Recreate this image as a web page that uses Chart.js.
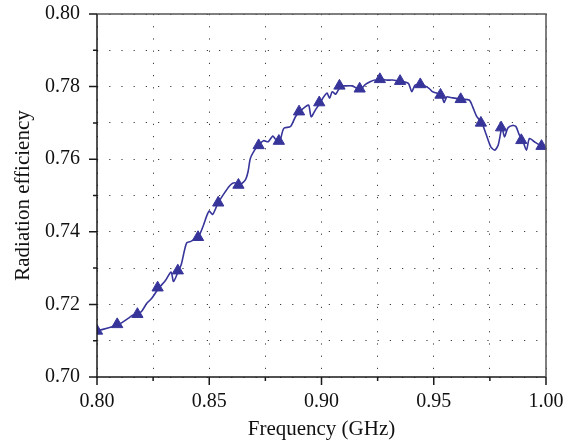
<!DOCTYPE html>
<html>
<head>
<meta charset="utf-8">
<script src="https://cdn.jsdelivr.net/npm/chart.js@4/dist/chart.umd.min.js"></script>
<style>
  html, body { margin: 0; padding: 0; background: #fff; }
  #wrap { width: 574px; height: 445px; }
</style>
</head>
<body>
<div id="wrap"><canvas id="chart"></canvas></div>
<script>
// traced curve (GHz, efficiency)
const freq = [0.800, 0.8091, 0.8140, 0.8158, 0.8180, 0.8200, 0.8222, 0.8244, 0.8274, 0.8304,
    0.8330, 0.8341, 0.8363, 0.8375, 0.8390, 0.8400, 0.8415, 0.8450, 0.8473, 0.8490,
    0.8500, 0.8515, 0.8539, 0.8571, 0.8594, 0.8613, 0.8634, 0.8661, 0.8673, 0.8683,
    0.8702, 0.8720, 0.8742, 0.8762, 0.8783, 0.8795, 0.8813, 0.8832, 0.8862, 0.8884,
    0.8903, 0.8929, 0.8943, 0.8954, 0.8973, 0.8996, 0.9010, 0.9025, 0.9036, 0.9048,
    0.9063, 0.9085, 0.9107, 0.9137, 0.9159, 0.9174, 0.9196, 0.9219, 0.9238, 0.9249,
    0.9260, 0.9286, 0.9316, 0.9338, 0.9353, 0.9387, 0.9402, 0.9417, 0.9442, 0.9479,
    0.9494, 0.9509, 0.9534, 0.9546, 0.9558, 0.9576, 0.9625, 0.9658, 0.9673, 0.9692,
    0.9714, 0.9732, 0.9754, 0.9772, 0.9787, 0.9804, 0.9815, 0.9830, 0.9851, 0.9866,
    0.9881, 0.9896, 0.9913, 0.9926, 0.9948, 0.9984, 1.000];
const efficiency = [0.7127, 0.7143, 0.7162, 0.7170, 0.7173, 0.7182, 0.7203, 0.7217, 0.7244, 0.7265,
    0.7289, 0.7263, 0.7293, 0.7309, 0.7350, 0.7370, 0.7373, 0.7385, 0.7416, 0.7446,
    0.7457, 0.7448, 0.7479, 0.7510, 0.7529, 0.7535, 0.7529, 0.7543, 0.7566, 0.7602,
    0.7625, 0.7639, 0.7651, 0.7648, 0.7664, 0.7655, 0.7648, 0.7685, 0.7690, 0.7717,
    0.7731, 0.7745, 0.7749, 0.7717, 0.7736, 0.7757, 0.7772, 0.7782, 0.7768, 0.7786,
    0.7779, 0.7800, 0.7802, 0.7802, 0.7795, 0.7793, 0.7806, 0.7814, 0.7818, 0.7814,
    0.7821, 0.7818, 0.7818, 0.7816, 0.7814, 0.7809, 0.7786, 0.7804, 0.7807, 0.7795,
    0.7786, 0.7783, 0.7777, 0.7756, 0.7772, 0.7770, 0.7765, 0.7763, 0.7745, 0.7717,
    0.7700, 0.7671, 0.7634, 0.7625, 0.7639, 0.7687, 0.7661, 0.7686, 0.7693, 0.7690,
    0.7667, 0.7652, 0.7625, 0.7657, 0.7648, 0.7635, 0.7633];

// triangle markers
const markerFreq = [0.800, 0.809, 0.818, 0.827, 0.836, 0.845, 0.854, 0.863, 0.872, 0.881,
    0.890, 0.899, 0.908, 0.917, 0.926, 0.935, 0.944, 0.953, 0.962, 0.971,
    0.980, 0.989, 0.998];
const markerEff = [0.7127, 0.7145, 0.7173, 0.7246, 0.7293, 0.7385, 0.7480, 0.7529, 0.7638, 0.7650,
    0.7731, 0.7756, 0.7802, 0.7794, 0.7820, 0.7815, 0.7806, 0.7777, 0.7765, 0.7700,
    0.7687, 0.7652, 0.7636];

const navy = "#37359a";
const serif = "'Liberation Serif', 'Times New Roman', serif";

const isMajorX = v => Math.round(v * 1000) % 50 === 0;
const isMajorY = v => Math.round(v * 100) % 2 === 0;

// box + outward tick marks
const framePlugin = {
    id: "frame",
    afterDraw(chart) {
        const { ctx, chartArea: a, scales: { x, y } } = chart;
        ctx.save();
        ctx.setLineDash([]);
        ctx.strokeStyle = "#1a1a1a";
        ctx.lineWidth = 1.5;
        ctx.beginPath();
        x.ticks.forEach(t => {
            const px = x.getPixelForValue(t.value);
            const len = isMajorX(t.value) ? 8 : 4;
            ctx.moveTo(px, a.bottom);
            ctx.lineTo(px, a.bottom + len);
        });
        y.ticks.forEach(t => {
            const py = y.getPixelForValue(t.value);
            const len = isMajorY(t.value) ? 8 : 4;
            ctx.moveTo(a.left, py);
            ctx.lineTo(a.left - len, py);
        });
        ctx.stroke();
        ctx.beginPath();
        ctx.moveTo(a.left, a.top);
        ctx.lineTo(a.left, a.bottom);
        ctx.lineTo(a.right, a.bottom);
        ctx.stroke();
        ctx.strokeStyle = "#555";
        ctx.beginPath();
        ctx.moveTo(a.left, a.top);
        ctx.lineTo(a.right, a.top);
        ctx.lineTo(a.right, a.bottom);
        ctx.stroke();
        ctx.restore();
    }
};

new Chart(document.getElementById("chart"), {
    type: "line",
    data: {
        datasets: [
            {
                data: freq.map((f, i) => ({ x: f, y: efficiency[i] })),
                borderColor: navy,
                borderWidth: 1.6,
                pointRadius: 0,
                tension: 0.25,
                fill: false,
            },
            {
                data: markerFreq.map((f, i) => ({ x: f, y: markerEff[i] })),
                showLine: false,
                pointStyle: "triangle",
                pointRadius: 6.5,
                backgroundColor: navy,
                borderColor: navy,
                borderWidth: 1,
            },
        ],
    },
    options: {
        responsive: true,
        maintainAspectRatio: false,
        animation: false,
        layout: { padding: 0 },
        plugins: {
            legend: { display: false },
            tooltip: { enabled: false },
        },
        scales: {
            x: {
                type: "linear",
                min: 0.8,
                max: 1.0,
                afterFit: s => {
                    s.height = 68;
                    s.paddingLeft = 0;
                    s.paddingRight = 28;
                },
                ticks: {
                    stepSize: 0.025,
                    autoSkip: false,
                    maxRotation: 0,
                    padding: 13,
                    color: "#111",
                    font: { family: serif, size: 20 },
                    callback: v => (isMajorX(v) ? v.toFixed(2) : ""),
                },
                grid: { color: "#3a3a3a", lineWidth: 1, drawTicks: false },
                border: { display: false, dash: [1.2, 11] },
                title: {
                    display: true,
                    text: "Frequency (GHz)",
                    color: "#111",
                    font: { family: serif, size: 21 },
                    padding: { top: 0, bottom: 3 },
                },
            },
            y: {
                min: 0.7,
                max: 0.8,
                afterFit: s => {
                    s.width = 97;
                    s.paddingTop = 14;
                    s.paddingBottom = 0;
                },
                ticks: {
                    stepSize: 0.01,
                    autoSkip: false,
                    padding: 17,
                    color: "#111",
                    font: { family: serif, size: 20 },
                    callback: v => (isMajorY(v) ? v.toFixed(2) : ""),
                },
                grid: { color: "#3a3a3a", lineWidth: 1, drawTicks: false },
                border: { display: false, dash: [1.2, 11] },
                title: {
                    display: true,
                    text: "Radiation efficiency",
                    color: "#111",
                    font: { family: serif, size: 21 },
                    padding: { top: 11, bottom: 0 },
                },
            },
        },
    },
    plugins: [framePlugin],
});
</script>
</body>
</html>
